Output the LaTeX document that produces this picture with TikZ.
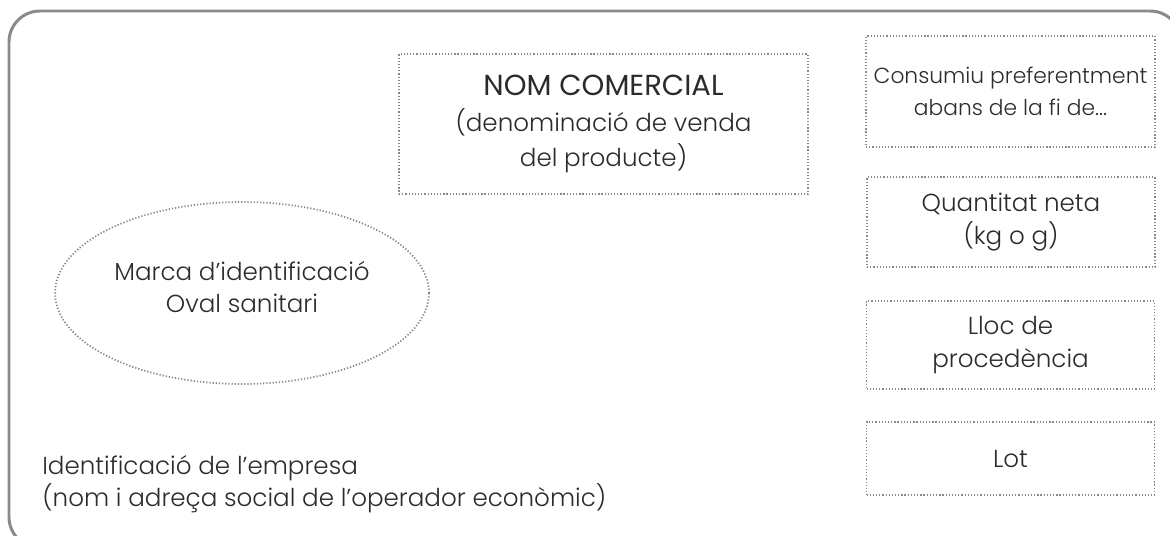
\documentclass[tikz,border=0pt]{standalone}
\usepackage{fontspec}
\setmainfont{Poppins Light}
\newfontfamily\headfont{Poppins}
\usetikzlibrary{shapes.geometric, positioning}
\definecolor{framegray}{HTML}{8A8A8C}
\definecolor{dotgray}{HTML}{888888}
\definecolor{textgray}{HTML}{2B2B2B}

\begin{document}
\begin{tikzpicture}[x=0.02cm, y=-0.02cm, font=\fontsize{14}{18.5}\selectfont, text=textgray]
\tikzstyle{frame} = [draw=framegray, line width=1.7pt, rounded corners=0.62cm]
\tikzstyle{labelbox} = [rectangle, draw=dotgray, line width=1pt, dash pattern=on 0.7pt off 1.1pt, align=center, inner sep=0pt]
\tikzstyle{oval} = [ellipse, draw=dotgray, line width=1pt, dash pattern=on 0.7pt off 1.1pt, inner sep=0pt]

\useasboundingbox (0,0) rectangle (1170,535);
\draw [frame] (9,11) rectangle (1181,548);

\node (nom) [labelbox, minimum width=8.18cm, minimum height=2.8cm, font=\fontsize{14}{20}\selectfont] at (603.5,124) {{\headfont\fontsize{16.5}{20}\selectfont NOM COMERCIAL}\\(denominació de venda\\del producte)};
\node (consum) [labelbox, minimum width=5.78cm, minimum height=2.22cm, font=\fontsize{12.4}{18.5}\selectfont] at (1010.5,91.5) {Consumiu preferentment\\abans de la fi de...};
\node (quant) [labelbox, minimum width=5.76cm, minimum height=1.8cm] at (1011,222) {Quantitat neta\\(kg o g)};
\node (lloc) [labelbox, minimum width=5.76cm, minimum height=1.76cm] at (1010.5,345) {Lloc de\\procedència};
\node (lot) [labelbox, minimum width=5.76cm, minimum height=1.46cm] at (1010.5,458.5) {Lot};
\node (marca) [oval, minimum width=7.48cm, minimum height=3.64cm] at (242,293) {};
\node (marcatext) [align=center] at (242,287) {Marca d’identificació\\Oval sanitari};
\node (empresa) [anchor=west, align=left, inner sep=0pt] at (42,484) {Identificació de l’empresa\\(nom i adreça social de l’operador econòmic)};

\end{tikzpicture}
\end{document}
